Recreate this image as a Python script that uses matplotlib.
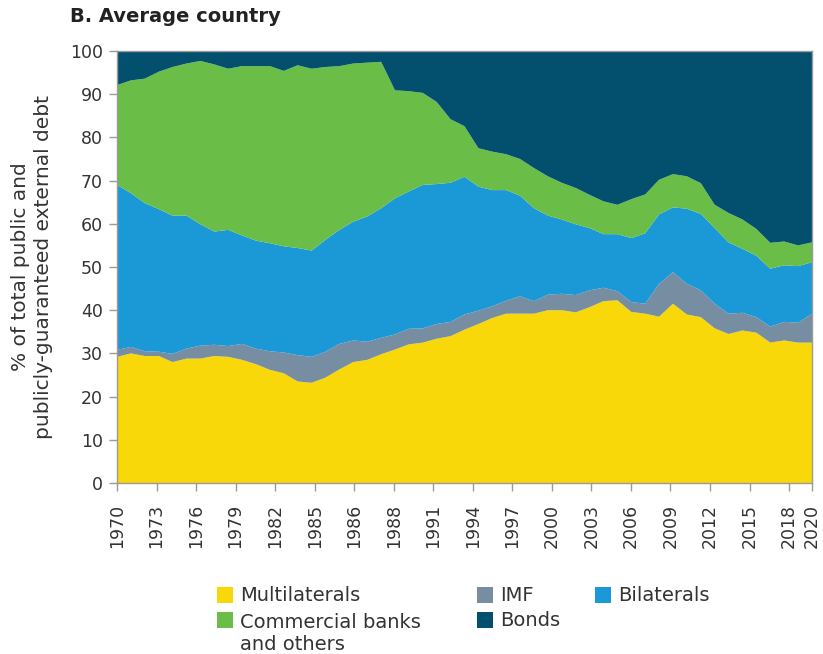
import numpy as np
import matplotlib.pyplot as plt
from matplotlib.patches import Rectangle

plt.rcParams['font.family'] = ['DejaVu Sans']

years = list(range(1970, 2021))

# shares of total PPG external debt, %
multilaterals = [29.2, 30.0, 29.4, 29.4, 28.0, 28.8, 28.8, 29.4, 29.2, 28.5,
                 27.5, 26.2, 25.4, 23.5, 23.2, 24.4, 26.3, 28.0, 28.5, 29.8,
                 30.9, 32.1, 32.5, 33.4, 34.0, 35.5, 36.8, 38.2, 39.2, 39.2,
                 39.2, 40.0, 40.0, 39.5, 40.7, 42.1, 42.3, 39.6, 39.2, 38.5,
                 41.5, 39.0, 38.4, 35.8, 34.5, 35.3, 34.8, 32.5, 33.0, 32.5,
                 32.5]
imf = [1.6, 1.5, 1.1, 1.0, 1.9, 2.3, 3.0, 2.6, 2.5, 3.7,
       3.6, 4.3, 4.8, 6.1, 6.0, 6.0, 5.9, 5.0, 4.2, 3.8,
       3.5, 3.6, 3.3, 3.4, 3.3, 3.5, 3.1, 2.7, 3.0, 4.0,
       2.9, 3.6, 3.8, 4.0, 3.9, 3.1, 2.1, 2.3, 2.3, 7.6,
       7.3, 7.1, 6.2, 5.7, 4.7, 4.1, 3.6, 3.7, 4.3, 4.6,
       6.7]
bilaterals = [38.2, 35.6, 34.3, 33.0, 32.0, 30.8, 28.1, 26.2, 26.9, 25.1,
              25.0, 25.0, 24.6, 24.8, 24.6, 25.9, 26.4, 27.5, 29.0, 30.0,
              31.5, 31.8, 33.2, 32.4, 32.2, 31.9, 28.7, 26.9, 25.6, 23.3,
              21.5, 18.3, 17.2, 16.4, 14.4, 12.4, 13.2, 14.8, 16.3, 16.1,
              15.0, 17.4, 17.7, 17.5, 16.5, 14.8, 14.2, 13.4, 13.1, 13.1,
              11.9]
commercial = [23.1, 26.1, 28.8, 31.8, 34.4, 35.2, 37.8, 38.7, 37.3, 39.2,
              40.4, 41.0, 40.6, 42.3, 42.1, 40.0, 37.9, 36.6, 35.6, 33.9,
              25.0, 23.2, 21.3, 19.0, 14.7, 11.7, 8.9, 8.9, 8.3, 8.5,
              9.3, 9.1, 8.5, 8.4, 7.7, 7.6, 6.8, 9.0, 9.0, 8.0,
              7.7, 7.5, 7.1, 5.4, 6.8, 6.8, 6.2, 6.0, 5.5, 4.8,
              4.6]
bonds = [7.9, 6.8, 6.4, 4.8, 3.7, 2.9, 2.3, 3.1, 4.1, 3.5,
         3.5, 3.5, 4.6, 3.3, 4.1, 3.7, 3.5, 2.9, 2.7, 2.5,
         9.1, 9.3, 9.7, 11.8, 15.8, 17.4, 22.5, 23.3, 23.9, 25.0,
         27.1, 29.0, 30.5, 31.7, 33.3, 34.8, 35.6, 34.3, 33.2, 29.8,
         28.5, 29.0, 30.6, 35.6, 37.5, 39.0, 41.2, 44.4, 44.1, 45.0,
         44.3]

tick_labels = ['1970', '1973', '1976', '1979', '1982', '1985', '1986', '1988',
               '1991', '1994', '1997', '2000', '2003', '2006', '2009', '2012',
               '2015', '2018', '2020']

names = ['Multilaterals', 'IMF', 'Bilaterals', 'Commercial banks\nand others', 'Bonds']
colors = ['#F8D808', '#778DA1', '#1B98D6', '#6ABD46', '#024F6E']

W, H = 823, 654
fig = plt.figure(figsize=(W / 100, H / 100), dpi=100)
ax = fig.add_axes([117 / W, 1 - 483 / H, 695 / W, 432 / H])

ax.stackplot(years, multilaterals, imf, bilaterals, commercial, bonds,
             colors=colors, linewidth=0)

ax.set_xlim(1970, 2020)
ax.set_ylim(0, 100)
ax.set_yticks(range(0, 101, 10))

# evenly spaced category-style ticks, as in the original
step = 2.844
pos = [1970 + step * k for k in range(18)] + [2020]
ax.set_xticks(pos)
ax.set_xticklabels(tick_labels, rotation=90)

for s in ax.spines.values():
    s.set_color('#9a9a9a')
    s.set_linewidth(1)
ax.tick_params(axis='both', colors='#9a9a9a', length=6, width=1,
               labelcolor='#333333', labelsize=12.5)
ax.tick_params(axis='y', pad=4)
ax.tick_params(axis='x', pad=9)

ax.set_ylabel('% of total public and\npublicly-guaranteed external debt',
              fontsize=14.5, color='#333333', linespacing=1.3)
ax.yaxis.set_label_coords(-0.092, 0.5)

fig.text(70 / W, 1 - 17 / H, 'B. Average country', fontsize=14,
         fontweight='bold', color='#222222', va='center', ha='left')

# legend drawn by hand so the patch lines up with the first text line
legend_items = [(0, 217, 587), (1, 477, 587), (2, 595, 587),
                (3, 217, 612), (4, 477, 612)]
line_h = 24
for i, px, py in legend_items:
    fig.add_artist(Rectangle((px / W, 1 - (py + 16) / H), 16 / W, 16 / H,
                             transform=fig.transFigure, facecolor=colors[i],
                             edgecolor='none'))
    # baseline of the last line of the label
    n_extra = names[i].count('\n')
    base = py + 14 + line_h * n_extra
    fig.text((px + 23) / W, 1 - base / H, names[i], fontsize=14,
             color='#333333', ha='left', va='baseline', linespacing=1.2)

fig.savefig('out.png', dpi=100)
